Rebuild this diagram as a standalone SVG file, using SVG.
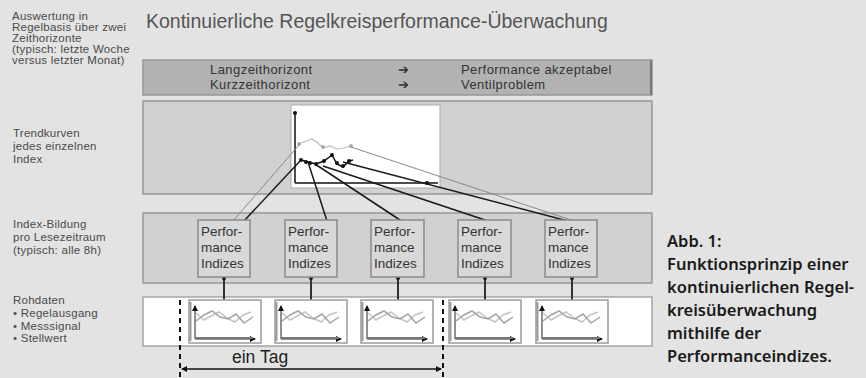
<svg xmlns="http://www.w3.org/2000/svg" width="866" height="378" viewBox="0 0 866 378">
  <style>
    .lbl { font-family: "Liberation Sans", Arial, sans-serif; font-size: 11.5px; letter-spacing: 0.25px; fill: #4a4a4a; }
    .band-txt { font-family: "Liberation Sans", Arial, sans-serif; font-size: 13px; letter-spacing: 0.45px; fill: #333; }
    .title { font-family: "Liberation Sans", Arial, sans-serif; font-size: 19.5px; fill: #555; }
    .pi { font-family: "Liberation Sans", Arial, sans-serif; font-size: 13.5px; fill: #333; }
    .pi-box { fill: #d8d8d8; stroke: #8a8a8a; stroke-width: 1.5; }
    .band { stroke: #979797; stroke-width: 1.5; }
    .cap { font-family: "Noto Sans", "Open Sans", sans-serif; font-size: 16.5px; font-weight: 600; fill: #1a1a1a; }
    .link { stroke: #1a1a1a; stroke-width: 1.5; fill: none; }
    .link-grey { stroke: #8a8a8a; stroke-width: 1; fill: none; }
    .stem { stroke: #333; stroke-width: 2; }
    .dash { stroke: #111; stroke-width: 2; stroke-dasharray: 5 4; }
  </style>
  <defs>
    <marker id="dot" viewBox="0 0 4 4" refX="2" refY="2" markerWidth="4" markerHeight="4" markerUnits="userSpaceOnUse">
      <circle cx="2" cy="2" r="2" fill="#111"/>
    </marker>
    <marker id="tip" viewBox="0 0 6 6" refX="5" refY="3" markerWidth="6" markerHeight="6" orient="auto-start-reverse" markerUnits="userSpaceOnUse">
      <path d="M0,0 L6,3 L0,6 z" fill="#111"/>
    </marker>
    <!-- small raw-data chart -->
    <g id="minichart">
      <rect x="0" y="0" width="72" height="43" fill="#fff" stroke="#9a9a9a" stroke-width="1.5"/>
      <line x1="1.5" y1="2" x2="1.5" y2="41" stroke="#999" stroke-width="2"/>
      <path d="M7,13 L15,20 L22,16 L30,12 L38,18 L46,22 L54,15 L62,12" fill="none" stroke="#c4c4c4" stroke-width="1.5"/>
      <path d="M7,21 L15,15 L23,11 L31,17 L39,19 L47,14 L55,23 L64,17" fill="none" stroke="#a4a4a4" stroke-width="1.5"/>
      <line x1="6" y1="39" x2="6" y2="6" stroke="#222" stroke-width="1" marker-end="url(#tip)"/>
      <line x1="6" y1="39" x2="66" y2="39" stroke="#222" stroke-width="1" marker-end="url(#tip)"/>
      <line x1="6" y1="38" x2="64" y2="38" stroke="#777" stroke-width="2"/>
    </g>
  </defs>

  <rect width="866" height="378" fill="#e3e3e3"/>

  <!-- left row labels -->
  <g id="label-auswertung">
    <text class="lbl" x="12" y="20">Auswertung in</text>
    <text class="lbl" x="12" y="31">Regelbasis über zwei</text>
    <text class="lbl" x="12" y="42">Zeithorizonte</text>
    <text class="lbl" x="12" y="53">(typisch: letzte Woche</text>
    <text class="lbl" x="12" y="64">versus letzter Monat)</text>
  </g>
  <g id="label-trend">
    <text class="lbl" x="13" y="137">Trendkurven</text>
    <text class="lbl" x="13" y="150">jedes einzelnen</text>
    <text class="lbl" x="13" y="163">Index</text>
  </g>
  <g id="label-index">
    <text class="lbl" x="13" y="228">Index-Bildung</text>
    <text class="lbl" x="13" y="241">pro Lesezeitraum</text>
    <text class="lbl" x="13" y="254">(typisch: alle 8h)</text>
  </g>
  <g id="label-rohdaten">
    <text class="lbl" x="13" y="304">Rohdaten</text>
    <text class="lbl" x="13" y="317">• Regelausgang</text>
    <text class="lbl" x="13" y="330">• Messsignal</text>
    <text class="lbl" x="13" y="342">• Stellwert</text>
  </g>

  <g id="title">
    <text class="title" x="146" y="28">Kontinuierliche Regelkreisperformance-Überwachung</text>
  </g>

  <!-- horizon band -->
  <g id="band-horizont">
    <rect class="band" x="143" y="60" width="509" height="35" fill="#b2b2b2" stroke="#888"/>
    <line x1="651" y1="61" x2="651" y2="95" stroke="#777" stroke-width="2"/>
    <text class="band-txt" x="210" y="74">Langzeithorizont</text>
    <text class="band-txt" x="210" y="89">Kurzzeithorizont</text>
    <text class="band-txt" x="398" y="74">➔</text>
    <text class="band-txt" x="398" y="89">➔</text>
    <text class="band-txt" x="461" y="74">Performance akzeptabel</text>
    <text class="band-txt" x="461" y="89">Ventilproblem</text>
  </g>

  <!-- trend band with chart -->
  <g id="band-trend">
    <rect class="band" x="143" y="101" width="509" height="93" fill="#d1d1d1"/>
    <rect x="291" y="105" width="149" height="83" fill="#fff" stroke="#aaa" stroke-width="1"/>
    <line x1="295" y1="183" x2="295" y2="113" stroke="#111" stroke-width="1.5" marker-end="url(#dot)"/>
    <line x1="295" y1="183" x2="438" y2="183" stroke="#111" stroke-width="1.5"/>
    <path d="M299,144 L306,141 L312,139 L318,143 L323,148 L330,146 L337,149 L344,148 L350,146" fill="none" stroke="#bbb" stroke-width="1.2"/>
    <g fill="#aaa">
      <circle cx="299" cy="144" r="2"/>
      <circle cx="323" cy="147" r="2"/>
      <circle cx="351" cy="146" r="2"/>
    </g>
    <path d="M301,160 L308,162 L316,164 L324,161 L332,155 L337,164 L343,167 L349,161 L353,160" fill="none" stroke="#111" stroke-width="1.5"/>
    <g fill="#111">
      <circle cx="301" cy="160" r="2"/>
      <circle cx="306" cy="162" r="2"/>
      <circle cx="310" cy="163" r="2"/>
      <circle cx="316" cy="164" r="2"/>
      <circle cx="324" cy="161" r="2"/>
      <circle cx="332" cy="155" r="2"/>
      <circle cx="337" cy="163" r="2"/>
      <circle cx="343" cy="166" r="2"/>
      <circle cx="349" cy="161" r="2"/>
      <circle cx="427" cy="183" r="2"/>
    </g>
  </g>

  <!-- index band -->
  <g id="band-index">
    <rect class="band" x="143" y="213" width="509" height="70" fill="#d1d1d1"/>
  </g>

  <!-- raw data band -->
  <g id="band-rohdaten">
    <rect x="143" y="297" width="509" height="49" fill="#fff" stroke="#a5a5a5" stroke-width="1.5"/>
  </g>

  <!-- connectors -->
  <g id="connectors">
    <line class="link-grey" x1="299" y1="145" x2="233" y2="221"/>
    <line class="link" x1="301" y1="160" x2="243" y2="222"/>
    <line class="link" x1="308" y1="162" x2="327" y2="221"/>
    <line class="link" x1="315" y1="164" x2="403" y2="222"/>
    <line class="link" x1="323" y1="166" x2="497" y2="224"/>
    <line class="link-grey" x1="351" y1="147" x2="583" y2="224"/>
    <line class="link" x1="343" y1="162" x2="583" y2="225"/>
    <line class="stem" x1="224" y1="278" x2="224" y2="300" marker-start="url(#dot)"/>
    <line class="stem" x1="311" y1="278" x2="311" y2="300" marker-start="url(#dot)"/>
    <line class="stem" x1="398" y1="278" x2="398" y2="300" marker-start="url(#dot)"/>
    <line class="stem" x1="485" y1="278" x2="485" y2="300" marker-start="url(#dot)"/>
    <line class="stem" x1="572" y1="278" x2="572" y2="300" marker-start="url(#dot)"/>
  </g>

  <!-- performance index nodes -->
  <g id="pi-1">
    <rect class="pi-box" x="198" y="220" width="52" height="57"/>
    <text class="pi" x="201" y="236">Perfor-</text>
    <text class="pi" x="201" y="252">mance</text>
    <text class="pi" x="201" y="268">Indizes</text>
  </g>
  <g id="pi-2">
    <rect class="pi-box" x="285" y="220" width="52" height="57"/>
    <text class="pi" x="288" y="236">Perfor-</text>
    <text class="pi" x="288" y="252">mance</text>
    <text class="pi" x="288" y="268">Indizes</text>
  </g>
  <g id="pi-3">
    <rect class="pi-box" x="371" y="220" width="53" height="57"/>
    <text class="pi" x="374" y="236">Perfor-</text>
    <text class="pi" x="374" y="252">mance</text>
    <text class="pi" x="374" y="268">Indizes</text>
  </g>
  <g id="pi-4">
    <rect class="pi-box" x="458" y="220" width="53" height="57"/>
    <text class="pi" x="461" y="236">Perfor-</text>
    <text class="pi" x="461" y="252">mance</text>
    <text class="pi" x="461" y="268">Indizes</text>
  </g>
  <g id="pi-5">
    <rect class="pi-box" x="545" y="220" width="52" height="57"/>
    <text class="pi" x="548" y="236">Perfor-</text>
    <text class="pi" x="548" y="252">mance</text>
    <text class="pi" x="548" y="268">Indizes</text>
  </g>

  <!-- raw data charts -->
  <g id="raw-1"><use href="#minichart" x="189" y="300"/></g>
  <g id="raw-2"><use href="#minichart" x="275" y="300"/></g>
  <g id="raw-3"><use href="#minichart" x="361" y="300"/></g>
  <g id="raw-4"><use href="#minichart" x="449" y="300"/></g>
  <g id="raw-5"><use href="#minichart" x="536" y="300"/></g>

  <!-- one-day span -->
  <g id="ein-tag">
    <line class="dash" x1="180" y1="300" x2="180" y2="378"/>
    <line class="dash" x1="443" y1="300" x2="443" y2="378"/>
    <line x1="182" y1="369" x2="441" y2="369" stroke="#111" stroke-width="1.5" marker-start="url(#tip)" marker-end="url(#tip)"/>
    <text x="232" y="363" font-family="Liberation Sans, Arial, sans-serif" font-size="17.5" fill="#222">ein Tag</text>
  </g>

  <!-- caption -->
  <g id="caption">
    <text class="cap" x="667" y="247">Abb. 1:</text>
    <text class="cap" x="667" y="270">Funktionsprinzip einer</text>
    <text class="cap" x="667" y="293">kontinuierlichen Regel-</text>
    <text class="cap" x="667" y="316">kreisüberwachung</text>
    <text class="cap" x="667" y="339">mithilfe der</text>
    <text class="cap" x="667" y="362">Performanceindizes.</text>
  </g>
</svg>
